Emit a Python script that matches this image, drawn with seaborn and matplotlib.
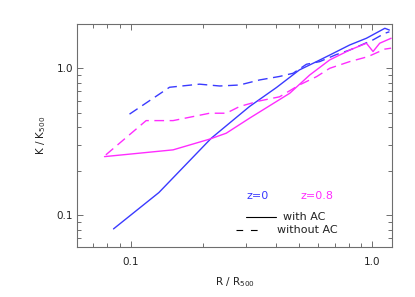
import numpy as np
import pandas as pd
import matplotlib
matplotlib.use("Agg")
import matplotlib.pyplot as plt
from matplotlib.ticker import FixedLocator, FixedFormatter, LogLocator, NullFormatter
import seaborn as sns

# z=0, with AC
r_z0_ac = [0.085, 0.131, 0.216, 0.311, 0.402, 0.50, 0.589, 0.668, 0.808, 0.948, 1.13, 1.18]
k_z0_ac = [0.081, 0.143, 0.335, 0.55, 0.74, 0.974, 1.11, 1.23, 1.44, 1.60, 1.87, 1.82]

# z=0, without AC
r_z0_noac = [0.099, 0.145, 0.193, 0.234, 0.283, 0.342, 0.414, 0.471, 0.535, 0.607, 0.712, 0.808, 1.01, 1.13, 1.18]
k_z0_noac = [0.488, 0.743, 0.78, 0.758, 0.77, 0.833, 0.88, 0.925, 1.065, 1.11, 1.24, 1.33, 1.56, 1.73, 1.77]

# z=0.8, with AC
r_z08_ac = [0.078, 0.150, 0.2125, 0.249, 0.311, 0.456, 0.552, 0.668, 0.808, 0.948, 1.01, 1.076, 1.20]
k_z08_ac = [0.251, 0.279, 0.33, 0.362, 0.458, 0.676, 0.90, 1.14, 1.33, 1.48, 1.30, 1.48, 1.60]

# z=0.8, without AC
r_z08_noac = [0.079, 0.116, 0.150, 0.2125, 0.249, 0.283, 0.342, 0.414, 0.50, 0.589, 0.668, 0.808, 0.962, 1.13, 1.20]
k_z08_noac = [0.258, 0.441, 0.441, 0.495, 0.495, 0.55, 0.60, 0.64, 0.77, 0.877, 1.0, 1.11, 1.20, 1.35, 1.37]

BLUE = "#3a3aff"
MAGENTA = "#ff2cff"
FRAME = "#6e6e6e"
TEXT = "#222222"

frames = []
for r, k, z, ac in [(r_z0_ac, k_z0_ac, "z=0", "with AC"),
                    (r_z0_noac, k_z0_noac, "z=0", "without AC"),
                    (r_z08_ac, k_z08_ac, "z=0.8", "with AC"),
                    (r_z08_noac, k_z08_noac, "z=0.8", "without AC")]:
    frames.append(pd.DataFrame({"r": r, "k": k, "z": z, "ac": ac, "curve": z + ac}))
df = pd.concat(frames, ignore_index=True)

sns.set_style("white")
plt.rcParams["font.family"] = ["DejaVu Sans"]
plt.rcParams["mathtext.default"] = "regular"

fig = plt.figure(figsize=(4.15, 2.97), dpi=100)
ax = fig.add_axes([77 / 415, 1 - 247 / 297, 315 / 415, 223 / 297])

sns.lineplot(data=df, x="r", y="k", hue="z", style="ac", units="curve",
             estimator=None, sort=False,
             palette={"z=0": BLUE, "z=0.8": MAGENTA},
             dashes={"with AC": "", "without AC": (7, 4)},
             linewidth=1.0, legend=False, ax=ax)

ax.set_xscale("log")
ax.set_yscale("log")
ax.set_xlim(0.06, 1.21)
ax.set_ylim(0.061, 2.0)

ax.xaxis.set_major_locator(FixedLocator([0.1, 1.0]))
ax.xaxis.set_major_formatter(FixedFormatter(["0.1", "1.0"]))
ax.yaxis.set_major_locator(FixedLocator([0.1, 1.0]))
ax.yaxis.set_major_formatter(FixedFormatter(["0.1", "1.0"]))
ax.xaxis.set_minor_locator(LogLocator(base=10, subs=np.arange(2, 10), numticks=20))
ax.yaxis.set_minor_locator(LogLocator(base=10, subs=np.arange(2, 10), numticks=20))
ax.xaxis.set_minor_formatter(NullFormatter())
ax.yaxis.set_minor_formatter(NullFormatter())

ax.tick_params(which="both", direction="in", bottom=True, left=True, top=True, right=True,
               color=FRAME, width=0.7, labelsize=7.5, labelcolor=TEXT)
ax.tick_params(which="major", length=4.5)
ax.tick_params(which="minor", length=2.8)
ax.tick_params(axis="x", which="major", pad=7)
ax.tick_params(axis="y", which="major", pad=3)

for s in ax.spines.values():
    s.set_color(FRAME)
    s.set_linewidth(0.8)

ax.set_xlabel("R / R$_{500}$", fontsize=7.5, color=TEXT, labelpad=6)
ax.set_ylabel("K / K$_{500}$", fontsize=7.5, color=TEXT, labelpad=6)

# annotation block
ax.text(0.539, 0.229, "z=0", color=BLUE, fontsize=8, transform=ax.transAxes, va="center")
ax.text(0.708, 0.229, "z=0.8", color=MAGENTA, fontsize=8, transform=ax.transAxes, va="center")
ax.plot([0.537, 0.632], [0.136, 0.136], color="black", lw=0.8, transform=ax.transAxes)
ax.text(0.653, 0.136, "with AC", color=TEXT, fontsize=8, transform=ax.transAxes, va="center")
ax.plot([0.505, 0.586], [0.076, 0.076], color="black", lw=0.8, dashes=(6, 7),
        transform=ax.transAxes)
ax.text(0.634, 0.076, "without AC", color=TEXT, fontsize=8, transform=ax.transAxes, va="center")

fig.savefig("out.png", dpi=100)
